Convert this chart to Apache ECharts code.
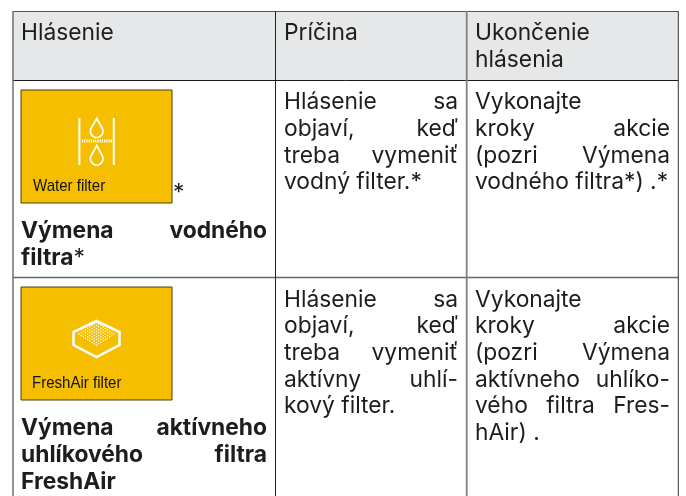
<!DOCTYPE html>
<html>
<head>
<meta charset="utf-8">
<style>html,body{margin:0;padding:0;background:#fff}#main{width:686px;height:496px}</style>
<script src="https://cdn.jsdelivr.net/npm/echarts@6/dist/echarts.min.js"></script>
</head>
<body>
<div id="main"></div>
<script>
// texty tabulky
var headers = [['Hlásenie'], ['Príčina'], ['Ukončenie', 'hlásenia']];
var row1Title = ['Výmena vodného', 'filtra'];
var row1Cause = ['Hlásenie sa', 'objaví, keď', 'treba vymeniť', 'vodný filter.*'];
var row1End = ['Vykonajte', 'kroky akcie', '(pozri Výmena', 'vodného filtra*) .*'];
var row2Title = ['Výmena aktívneho', 'uhlíkového filtra', 'FreshAir'];
var row2Cause = ['Hlásenie sa', 'objaví, keď', 'treba vymeniť', 'aktívny uhlí-', 'kový filter.'];
var row2End = ['Vykonajte', 'kroky akcie', '(pozri Výmena', 'aktívneho uhlíko-', 'vého filtra Fres-', 'hAir) .'];
var iconLabels = ['Water filter', 'FreshAir filter'];

var FONT = 'Inter';
var SIZE = 22.8;
var LINE = 26.6;
var INK = '#1d1d1b';
var ctx = document.createElement('canvas').getContext('2d');
var els = [];

function word(x, y, t, weight) {
    els.push({
        type: 'text', x: x, y: y - 6.5, silent: true,
        style: { text: t, x: 0, y: 0, fill: INK, align: 'left', verticalAlign: 'middle', font: weight + ' ' + SIZE + 'px ' + FONT }
    });
}

// zarovnany odstavec, posledny riadok zostava vlavo
function para(lines, left, right, base, weight) {
    ctx.font = weight + ' ' + SIZE + 'px ' + FONT;
    lines.forEach(function (line, i) {
        var y = base + i * LINE;
        var w = line.split(' ');
        if (i === lines.length - 1 || w.length === 1) {
            word(left, y, line, weight);
            return;
        }
        var total = 0;
        w.forEach(function (s) { total += ctx.measureText(s).width; });
        var gap = (right - left - total) / (w.length - 1);
        var x = left;
        w.forEach(function (s) {
            word(x, y, s, weight);
            x += ctx.measureText(s).width + gap;
        });
    });
}

function rect(x, y, w, h, fill, stroke, lw) {
    els.push({ type: 'rect', silent: true, shape: { x: x, y: y, width: w, height: h }, style: { fill: fill, stroke: stroke, lineWidth: lw || 0 } });
}
function line(x1, y1, x2, y2, color, lw, dash) {
    els.push({ type: 'line', silent: true, shape: { x1: x1, y1: y1, x2: x2, y2: y2 }, style: { stroke: color, lineWidth: lw, lineDash: dash || null } });
}
// kvapka z oblucika a dvoch hran
function drop(cx, top, bottom) {
    var r = 6.3;
    var cy = bottom - r;
    var a = 0.45;
    var pts = [[cx, top]];
    for (var i = 0; i <= 16; i++) {
        var t = -a + (Math.PI + 2 * a) * i / 16;
        pts.push([cx + r * Math.cos(t), cy + r * Math.sin(t)]);
    }
    els.push({ type: 'polygon', silent: true, shape: { points: pts, smooth: 0 }, style: { fill: null, stroke: '#fff', lineWidth: 1.7 } });
}
function box(y, label, lx, sx) {
    rect(21, y, 151, 113, '#f5bf00', '#4d3f08', 1);
    els.push({
        type: 'text', silent: true, x: lx, y: y + 96, scaleX: sx,
        style: { text: label, x: 0, y: 0, fill: '#14120a', font: '17px "Liberation Sans"', align: 'left', verticalAlign: 'middle' }
    });
}

// hlavicka a mriezka
rect(13, 11.5, 665, 68.5, '#e6e7e8');
line(13, 11.5, 678, 11.5, '#555', 1.2);
line(13, 80.5, 678, 80.5, '#1a1a1a', 1);
line(13, 277.5, 678, 277.5, '#666', 1.4);
line(13, 11, 13, 496, '#666', 1.4);
line(275.5, 11, 275.5, 496, '#222', 1);
line(466.7, 11, 466.7, 496, '#808080', 1.8);
line(678.3, 11, 678.3, 496, '#333', 1);

word(21, 39.5, headers[0][0], 400);
word(284, 39.5, headers[1][0], 400);
word(475, 39.5, headers[2][0], 400);
word(475, 66.5, headers[2][1], 400);

// riadok 1
box(90, iconLabels[0], 33, 0.885);
line(79.4, 118, 79.4, 165, '#fff', 2);
line(113.8, 118, 113.8, 165, '#fff', 2);
line(82, 141, 112, 141, '#fff', 3, [1.2, 1]);
drop(96.7, 118.5, 137.5);
drop(96.7, 145.5, 165);
word(173, 200, '*', 400);
para(row1Title, 21, 267, 238, 700);
ctx.font = '700 ' + SIZE + 'px ' + FONT;
word(21 + ctx.measureText(row1Title[1]).width, 238 + LINE, '*', 400);
para(row1Cause, 284, 458, 109, 400);
para(row1End, 475, 670, 109, 400);

// riadok 2
box(287, iconLabels[1], 32, 0.885);
els.push({
    type: 'polygon', silent: true,
    shape: { points: [[96.5, 321], [119.5, 332], [119.5, 345], [96.5, 357], [73.5, 345], [73.5, 332]] },
    style: { fill: null, stroke: '#fff', lineWidth: 2.5 }
});
// tecky vlozky filtra
for (var a = -4; a <= 4; a++) {
    for (var b = -4; b <= 4; b++) {
        els.push({ type: 'circle', silent: true, shape: { cx: 96.5 + (a - b) * 2.2, cy: 334 + (a + b) * 1.4, r: 0.75 }, style: { fill: '#fff' } });
    }
}
para(row2Title, 21, 267, 435, 700);
para(row2Cause, 284, 458, 306.5, 400);
para(row2End, 475, 670, 306.5, 400);

var myChart = echarts.init(document.getElementById('main'));
myChart.setOption({
    animation: false,
    backgroundColor: '#fff',
    graphic: { elements: els }
});
</script>
</body>
</html>
